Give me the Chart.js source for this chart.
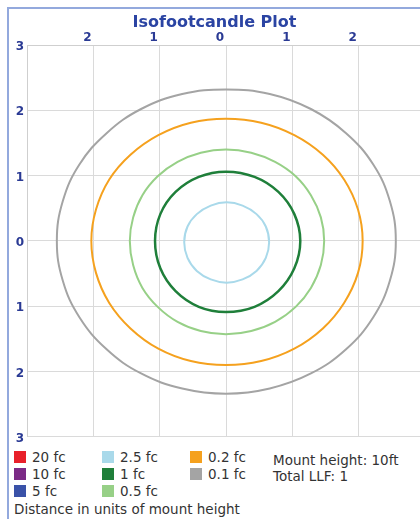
<!DOCTYPE html>
<html>
<head>
<meta charset="utf-8">
<script src="https://cdn.jsdelivr.net/npm/chart.js@4.4.0/dist/chart.umd.min.js"></script>
<style>
  body { margin: 0; background: #fff; overflow: hidden; width: 420px; height: 519px; position: relative; font-family: "DejaVu Sans", sans-serif; }
  #frameLeft { position: absolute; left: 7px; top: 7px; width: 2px; height: 512px; background: #93a9dd; }
  #frameTop { position: absolute; left: 7px; top: 7px; width: 413px; height: 2px; background: #93a9dd; }
  #title { position: absolute; left: 0; width: 429px; top: 12px; text-align: center; font-weight: bold; font-size: 16px; color: #2b44a3; }
  #wrap { position: absolute; left: 0; top: 0; width: 426px; height: 447px; }
  #legend { position: absolute; left: 0; top: 0; font-size: 13.5px; color: #333; }
  .item { position: absolute; white-space: nowrap; line-height: 16px; }
  .sw { position: absolute; width: 12px; height: 12px; }
</style>
</head>
<body>
<div id="frameLeft"></div>
<div id="frameTop"></div>
<div id="wrap"><canvas id="isoChart" width="426" height="447"></canvas></div>
<div id="title">Isofootcandle Plot</div>
<div id="legend"></div>

<script>
// axis ticks (distance in units of mount height)
const ticks = [-3, -2, -1, 0, 1, 2, 3];

// legend entries
const levelLabels = ["20 fc", "10 fc", "5 fc", "2.5 fc", "1 fc", "0.5 fc", "0.2 fc", "0.1 fc"];
const levelColors = ["#e8202a", "#7b2a86", "#3a52a8", "#a9d9ea", "#1f7f3a", "#97d087", "#f5a11e", "#a4a4a4"];
const infoLines = ["Mount height: 10ft", "Total LLF: 1"];

// contour points (x, y in mount heights), going round from the right
const c01x = [2.56, 2.47, 2.22, 1.81, 1.28, 0.66, 0.00, -0.66, -1.28, -1.80, -2.21, -2.46, -2.55, -2.46, -2.21, -1.80, -1.28, -0.66, 0.00, 0.66, 1.28, 1.81, 2.22, 2.47];
const c01y = [0.00, 0.61, 1.17, 1.65, 2.02, 2.25, 2.32, 2.25, 2.02, 1.65, 1.17, 0.61, 0.00, -0.61, -1.17, -1.66, -2.03, -2.26, -2.34, -2.26, -2.03, -1.66, -1.17, -0.61];

const c02x = [2.06, 1.99, 1.78, 1.46, 1.03, 0.53, 0.00, -0.53, -1.02, -1.44, -1.76, -1.96, -2.03, -1.96, -1.76, -1.44, -1.02, -0.53, 0.00, 0.53, 1.03, 1.46, 1.78, 1.99];
const c02y = [0.00, 0.48, 0.94, 1.32, 1.62, 1.81, 1.87, 1.81, 1.62, 1.32, 0.94, 0.48, 0.00, -0.49, -0.95, -1.34, -1.65, -1.84, -1.90, -1.84, -1.65, -1.34, -0.95, -0.49];

const c05x = [1.48, 1.43, 1.28, 1.05, 0.74, 0.38, 0.00, -0.38, -0.73, -1.03, -1.26, -1.40, -1.45, -1.40, -1.26, -1.03, -0.73, -0.38, 0.00, 0.38, 0.74, 1.05, 1.28, 1.43];
const c05y = [0.00, 0.36, 0.70, 0.99, 1.21, 1.35, 1.40, 1.35, 1.21, 0.99, 0.70, 0.36, 0.00, -0.37, -0.72, -1.01, -1.24, -1.38, -1.43, -1.38, -1.24, -1.01, -0.72, -0.37];

const c1x = [1.12, 1.03, 0.79, 0.43, 0.00, -0.41, -0.76, -0.99, -1.07, -0.99, -0.76, -0.41, 0.00, 0.43, 0.79, 1.03];
const c1y = [0.00, 0.41, 0.75, 0.98, 1.06, 0.98, 0.75, 0.41, 0.00, -0.42, -0.77, -1.01, -1.09, -1.01, -0.77, -0.42];

const c25x = [0.65, 0.60, 0.46, 0.25, 0.01, -0.23, -0.44, -0.58, -0.63, -0.58, -0.44, -0.23, 0.01, 0.25, 0.46, 0.60];
const c25y = [-0.02, 0.22, 0.41, 0.54, 0.59, 0.54, 0.41, 0.22, -0.02, -0.26, -0.46, -0.59, -0.64, -0.59, -0.46, -0.26];

function pts(xs, ys) {
  return xs.map((x, i) => ({ x: x, y: ys[i] }));
}

function line(label, xs, ys, color, width) {
  return {
    label: label,
    data: pts(xs, ys),
    showLine: true,
    borderColor: color,
    borderWidth: width,
    pointRadius: 0,
    tension: 0.4,
    fill: false
  };
}

// contours are closed curves: let the line element join last point to first
const closeLoops = {
  id: "closeLoops",
  afterDatasetsUpdate(chart) {
    chart.getSortedVisibleDatasetMetas().forEach(m => {
      if (m.dataset) {
        m.dataset._loop = true;
        m.dataset._fullLoop = true;
        delete m.dataset._segments;
        delete m.dataset._path;
        m.dataset._pointsUpdated = false;
      }
    });
  }
};

const tickColor = "#2a3a94";

new Chart(document.getElementById("isoChart"), {
  type: "scatter",
  data: {
    datasets: [
      line("0.1 fc", c01x, c01y, levelColors[7], 2),
      line("0.2 fc", c02x, c02y, levelColors[6], 2),
      line("0.5 fc", c05x, c05y, levelColors[5], 2),
      line("1 fc", c1x, c1y, levelColors[4], 2.5),
      line("2.5 fc", c25x, c25y, levelColors[3], 2)
    ]
  },
  plugins: [closeLoops],
  options: {
    responsive: false,
    animation: false,
    layout: { padding: { left: 0, right: 1, top: 0, bottom: 6 } },
    plugins: { legend: { display: false }, tooltip: { enabled: false } },
    scales: {
      x: {
        type: "linear",
        position: "top",
        min: ticks[0],
        max: ticks[ticks.length - 1],
        afterBuildTicks: s => { s.ticks = ticks.map(v => ({ value: v })); },
        afterFit: s => { s.height = 45; },
        grid: { color: "#dadada", drawTicks: false },
        border: { color: "#cfcfcf" },
        ticks: {
          color: tickColor,
          font: { family: "DejaVu Sans", size: 12, weight: "bold" },
          padding: 0,
          labelOffset: -6,
          maxRotation: 0,
          callback: v => Math.abs(v) === 3 ? "" : String(Math.abs(v))
        }
      },
      y: {
        type: "linear",
        min: ticks[0],
        max: ticks[ticks.length - 1],
        afterBuildTicks: s => { s.ticks = ticks.map(v => ({ value: v })); },
        afterFit: s => { s.width = 27; },
        grid: { color: "#dadada", drawTicks: false },
        border: { color: "#cfcfcf" },
        ticks: {
          color: tickColor,
          font: { family: "DejaVu Sans", size: 12, weight: "bold" },
          padding: 3,
          labelOffset: 2,
          callback: v => String(Math.abs(v))
        }
      }
    }
  }
});

// legend below the plot, three entries per column
const legend = document.getElementById("legend");
const colX = [14, 102, 190];
const rowY = [451, 468, 485];
levelLabels.forEach((lab, i) => {
  const c = Math.floor(i / 3), r = i % 3;
  const sw = document.createElement("div");
  sw.className = "sw";
  sw.style.left = colX[c] + "px";
  sw.style.top = rowY[r] + "px";
  sw.style.background = levelColors[i];
  legend.appendChild(sw);
  const t = document.createElement("div");
  t.className = "item";
  t.style.left = (colX[c] + 18) + "px";
  t.style.top = (rowY[r] - 2) + "px";
  t.textContent = lab;
  legend.appendChild(t);
});
infoLines.forEach((txt, i) => {
  const t = document.createElement("div");
  t.className = "item";
  t.style.left = "273px";
  t.style.top = (452 + i * 16) + "px";
  t.textContent = txt;
  legend.appendChild(t);
});
const note = document.createElement("div");
note.className = "item";
note.style.left = "14px";
note.style.top = "501px";
note.textContent = "Distance in units of mount height";
legend.appendChild(note);
</script>
</body>
</html>
